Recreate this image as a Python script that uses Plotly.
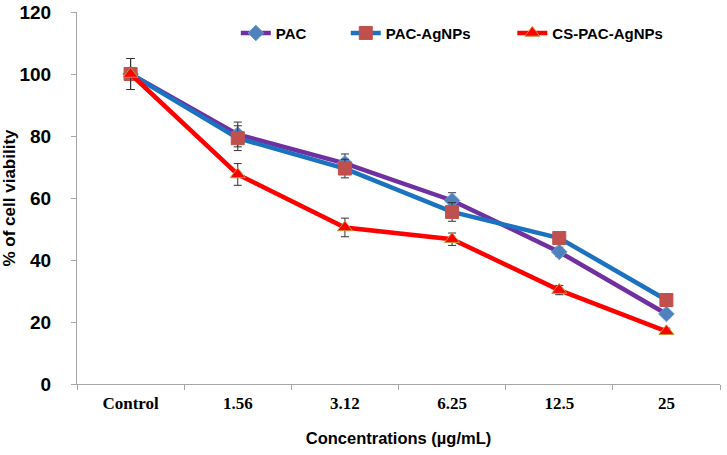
import plotly.graph_objects as go

categories = ["Control", "1.56", "3.12", "6.25", "12.5", "25"]
pac = [100, 80.5, 71.2, 59.2, 42.6, 22.6]
pac_err = [5, 4, 3, 2.5, 1.5, 1]
pac_ag = [100, 79.3, 69.5, 55.5, 47.1, 27.1]
pac_ag_err = [5, 4, 3, 3, 1.5, 1]
cs_pac_ag = [100, 67.6, 50.5, 46.7, 30.3, 17.0]
cs_pac_ag_err = [5, 3.5, 3, 2, 1.5, 1]
yticks = [0, 20, 40, 60, 80, 100, 120]

fig = go.Figure()

def add(name, y, err, lcolor, msym, mcolor, msize, mline, legend):
    fig.add_trace(go.Scatter(
        x=categories, y=y, name=name, mode="lines+markers",
        line=dict(color=lcolor, width=4.5),
        marker=dict(symbol=msym, color=mcolor, size=msize, line=dict(color=mline, width=1)),
        error_y=dict(type="data", array=err, visible=True, color="#333333", thickness=1, width=4),
        legend=legend,
    ))

add("PAC", pac, pac_err, "#7030A0", "diamond", "#4F81BD", 12, "#6F9BD0", "legend")
add("PAC-AgNPs", pac_ag, pac_ag_err, "#1B72C0", "square", "#C0504D", 13, "#C0504D", "legend2")
add("CS-PAC-AgNPs", cs_pac_ag, cs_pac_ag_err, "#FF0000", "triangle-up", "#FF0000", 13, "#C8963E", "legend3")

legfont = dict(family="Arial, Liberation Sans", size=15, color="black", weight="bold")
def leg(x):
    return dict(x=x, y=0.943, xanchor="left", yanchor="middle", orientation="h",
                font=legfont, bgcolor="rgba(0,0,0,0)", borderwidth=0,
                itemwidth=30, tracegroupgap=0)

fig.update_layout(
    width=727, height=455,
    margin=dict(l=77, r=7, t=12, b=71, autoexpand=False),
    paper_bgcolor="white", plot_bgcolor="white",
    showlegend=True,
    legend=leg(0.247),
    legend2=leg(0.418),
    legend3=leg(0.677),
    xaxis=dict(
        type="category", categoryorder="array", categoryarray=categories,
        range=[-0.5, 5.5], tickson="boundaries", ticks="outside", ticklen=5,
        tickcolor="#A6A6A6", showline=True, linecolor="#A6A6A6", linewidth=1,
        showgrid=False, zeroline=False, automargin=False,
        tickfont=dict(family="Liberation Serif, Times New Roman", size=17, color="black", weight="bold"),
        ticklabelstandoff=4,
        title=dict(text="Concentrations (µg/mL)", standoff=20,
                   font=dict(family="Arial, Liberation Sans", size=16.5, color="black", weight="bold")),
    ),
    yaxis=dict(
        range=[0, 120], tickvals=yticks, ticks="outside", ticklen=5,
        tickcolor="#A6A6A6", showline=True, linecolor="#A6A6A6", linewidth=1,
        showgrid=False, zeroline=False, automargin=False,
        tickfont=dict(family="Arial, Liberation Sans", size=19, color="black", weight="bold"),
        ticklabelstandoff=16, ticklabeloverflow="allow",
        title=dict(text="% of cell viability", standoff=8,
                   font=dict(family="Arial, Liberation Sans", size=17, color="black", weight="bold")),
    ),
)

# remove the browser's default 8px body margin so the figure sits at the window origin
fig.write_html("out.html", config={"displayModeBar": False},
               post_script="document.body.style.margin='0';")
